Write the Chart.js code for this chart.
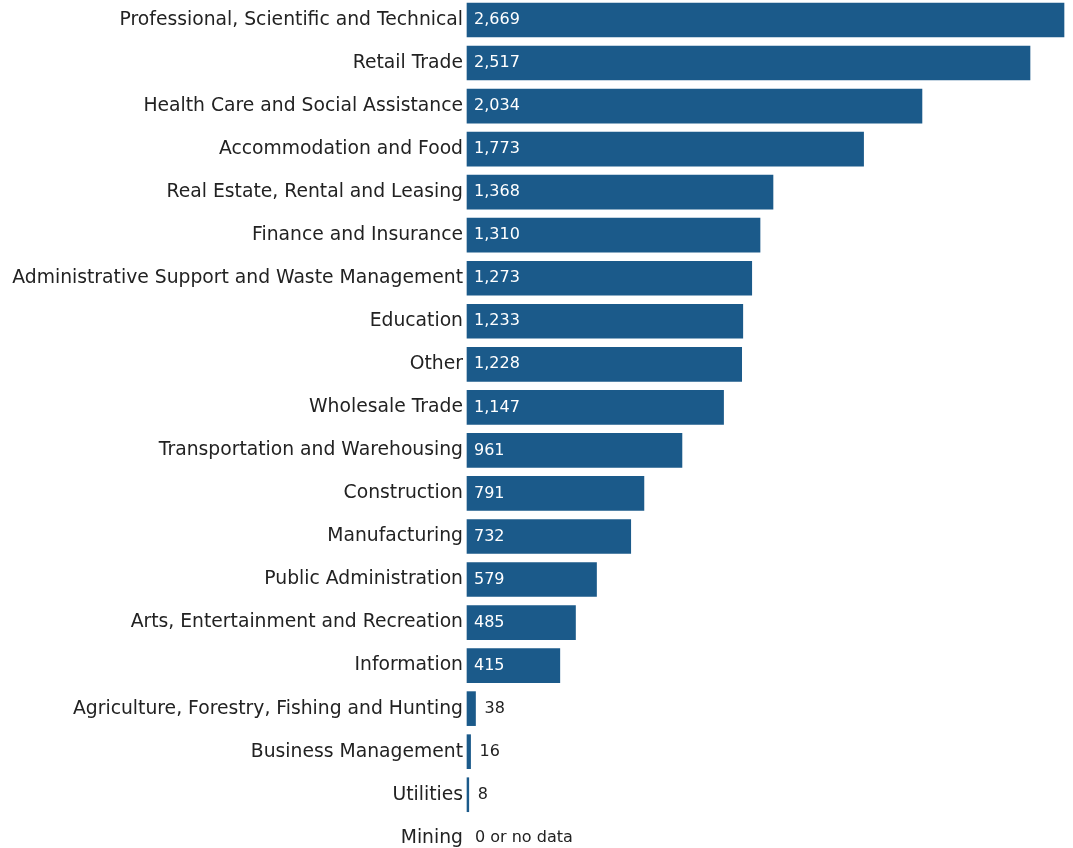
<!DOCTYPE html>
<html>
<head>
<meta charset="utf-8">
<script src="https://cdn.jsdelivr.net/npm/chart.js@4/dist/chart.umd.min.js"></script>
<style>
  html, body { margin: 0; padding: 0; background: #fff; overflow: hidden; }
  #wrap { width: 1073px; height: 848px; overflow: hidden; }
</style>
</head>
<body>
<div id="wrap"><canvas id="industryChart" width="1073" height="853"></canvas></div>
<script>
const industries = [
  "Professional, Scientific and Technical",
  "Retail Trade",
  "Health Care and Social Assistance",
  "Accommodation and Food",
  "Real Estate, Rental and Leasing",
  "Finance and Insurance",
  "Administrative Support and Waste Management",
  "Education",
  "Other",
  "Wholesale Trade",
  "Transportation and Warehousing",
  "Construction",
  "Manufacturing",
  "Public Administration",
  "Arts, Entertainment and Recreation",
  "Information",
  "Agriculture, Forestry, Fishing and Hunting",
  "Business Management",
  "Utilities",
  "Mining"
];
const counts = [2669, 2517, 2034, 1773, 1368, 1310, 1273, 1233, 1228, 1147, 961, 791, 732, 579, 485, 415, 38, 16, 8, 0];
const noDataText = "0 or no data";

const barColor = "#1b5a8a";
const fontFamily = "'DejaVu Sans', Verdana, sans-serif";

// value labels: white inside long bars, dark just past short ones
const valueLabels = {
  id: "valueLabels",
  afterDatasetsDraw(chart) {
    const ctx = chart.ctx;
    const meta = chart.getDatasetMeta(0);
    ctx.save();
    ctx.font = "16px " + fontFamily;
    ctx.textBaseline = "middle";
    ctx.textAlign = "left";
    meta.data.forEach((bar, i) => {
      const v = counts[i];
      const text = v === 0 ? noDataText : v.toLocaleString("en-US");
      const w = bar.x - bar.base;
      if (w > 60) {
        ctx.fillStyle = "#ffffff";
        ctx.fillText(text, bar.base + 7, bar.y);
      } else {
        ctx.fillStyle = "#222222";
        ctx.fillText(text, (v === 0 ? bar.base + 8 : bar.x + 9), bar.y);
      }
    });
    ctx.restore();
  }
};

const ctx = document.getElementById("industryChart").getContext("2d");

new Chart(ctx, {
  type: "bar",
  data: {
    labels: industries,
    datasets: [
      {
        data: counts,
        backgroundColor: counts.map((v) => (v === 0 ? "rgba(0,0,0,0)" : barColor)),
        borderWidth: 0,
        barThickness: 34,
        clip: false,
      },
    ],
  },
  options: {
    indexAxis: "y",
    responsive: false,
    animation: false,
    layout: { padding: { top: 20, bottom: 11, left: 0, right: 9 } },
    plugins: {
      legend: { display: false },
      tooltip: { enabled: false },
    },
    scales: {
      x: {
        display: false,
        min: 0,
        max: 2669,
      },
      y: {
        offset: false,
        grid: { display: false, drawTicks: false },
        border: { display: false },
        ticks: {
          color: "#222222",
          padding: 4,
          font: { size: 18.75, family: fontFamily },
        },
        afterFit(scale) {
          scale.width = 467;
        },
      },
    },
  },
  plugins: [valueLabels],
});
</script>
</body>
</html>
